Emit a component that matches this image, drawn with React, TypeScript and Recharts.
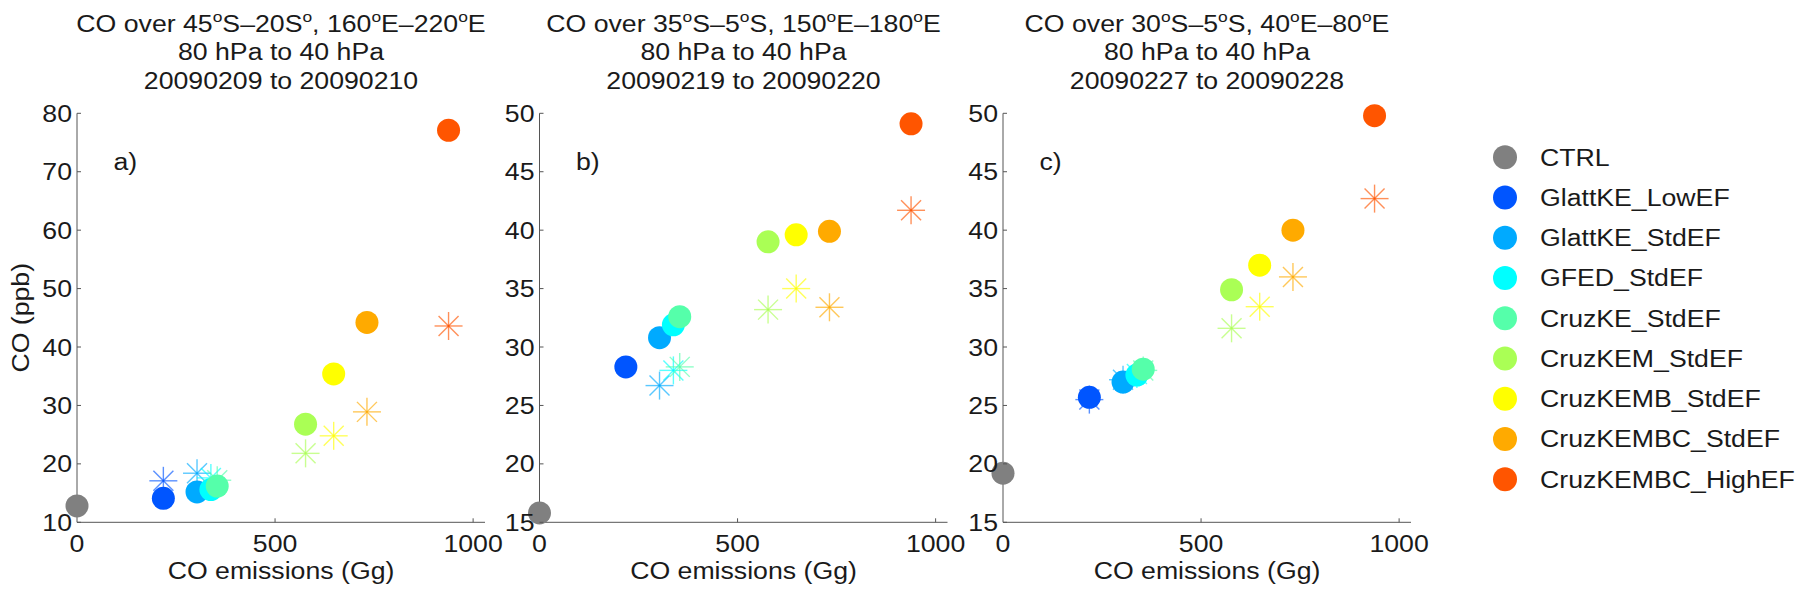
import React from 'react';
import { ScatterChart, Scatter, XAxis, YAxis } from 'recharts';

const SCENARIOS = ['CTRL', 'GlattKE_LowEF', 'GlattKE_StdEF', 'GFED_StdEF', 'CruzKE_StdEF', 'CruzKEM_StdEF', 'CruzKEMB_StdEF', 'CruzKEMBC_StdEF', 'CruzKEMBC_HighEF'];
const COLORS = ['#808080', '#0055FF', '#00AAFF', '#00FFFF', '#55FFAA', '#AAFF55', '#FFFF00', '#FFAA00', '#FF5500'];
const EMISSIONS = [0, 218, 303, 338, 354, 577, 648, 732, 938];

const A_CIRCLE = [12.8, 14.1, 15.2, 15.6, 16.2, 26.8, 35.4, 44.2, 77.1];
const A_STAR = [null, 17.1, 18.4, 17.6, 17.2, 21.8, 24.8, 28.9, 43.6];
const B_CIRCLE = [15.8, 28.3, 30.8, 31.9, 32.6, 39.0, 39.6, 39.9, 49.1];
const B_STAR = [null, null, 26.7, 28.0, 28.3, 33.2, 35.0, 33.4, 41.7];
const C_CIRCLE = [19.2, 25.7, 27.0, 27.6, 28.1, 34.9, 37.0, 40.0, 49.8];
const C_STAR = [null, 25.5, 27.2, 27.7, 28.0, 31.6, 33.45, 36.0, 42.7];

const X_TICKS = [0, 500, 1000];
const A_Y_TICKS = [10, 20, 30, 40, 50, 60, 70, 80];
const BC_Y_TICKS = [15, 20, 25, 30, 35, 40, 45, 50];

const A_TITLE = [['CO over 45', 'o', 'S\u201320S', 'o', ', 160', 'o', 'E\u2013220', 'o', 'E'], ['80 hPa to 40 hPa'], ['20090209 to 20090210']];
const B_TITLE = [['CO over 35', 'o', 'S\u20135', 'o', 'S, 150', 'o', 'E\u2013180', 'o', 'E'], ['80 hPa to 40 hPa'], ['20090219 to 20090220']];
const C_TITLE = [['CO over 30', 'o', 'S\u20135', 'o', 'S, 40', 'o', 'E\u201380', 'o', 'E'], ['80 hPa to 40 hPa'], ['20090227 to 20090228']];

const X_LABEL = 'CO emissions (Gg)';
const Y_LABEL = 'CO (ppb)';

const FONT = '"Liberation Sans", Arial, Helvetica, sans-serif';
const FS = 23;
const SX = 1.16;
const TXT = '#1a1a1a';
const AXIS = '#555555';

const W = 1800;
const H = 593;
const PLOT_TOP = 113.3;
const PLOT_BOTTOM = 522.3;
const X_MAX = 1030;
const PLOT_W = 408;
const YW = 60;
const XH = 30;

const PANELS = [
  { left: 77, circle: A_CIRCLE, star: A_STAR, yTicks: A_Y_TICKS, title: A_TITLE, tag: 'a)', yLabel: true },
  { left: 539.5, circle: B_CIRCLE, star: B_STAR, yTicks: BC_Y_TICKS, title: B_TITLE, tag: 'b)', yLabel: false },
  { left: 1003, circle: C_CIRCLE, star: C_STAR, yTicks: BC_Y_TICKS, title: C_TITLE, tag: 'c)', yLabel: false },
];

function STxt({ x, y, anchor = 'start', size = FS, children, rotate = 0 }: any) {
  return (
    <g transform={`translate(${x},${y}) rotate(${rotate}) scale(${SX},1)`}>
      <text x={0} y={0} textAnchor={anchor} fontSize={size} fontFamily={FONT} fill={TXT}>
        {children}
      </text>
    </g>
  );
}

function circleShape(color: string) {
  return (props: any) => {
    if (props.cx == null || props.cy == null) return <g />;
    return <circle cx={props.cx} cy={props.cy} r={11.5} fill={color} />;
  };
}

function starShape(color: string) {
  return (props: any) => {
    if (props.cx == null || props.cy == null) return <g />;
    const { cx, cy } = props;
    const a = 14;
    const d = 10;
    return (
      <g stroke={color} strokeWidth={1.4} strokeOpacity={0.65}>
        <line x1={cx - a} y1={cy} x2={cx + a} y2={cy} />
        <line x1={cx} y1={cy - a} x2={cx} y2={cy + a} />
        <line x1={cx - d} y1={cy - d} x2={cx + d} y2={cy + d} />
        <line x1={cx - d} y1={cy + d} x2={cx + d} y2={cy - d} />
      </g>
    );
  };
}

function Panel({ p }: any) {
  const plotLeft = p.left;
  const plotRight = p.left + PLOT_W;
  const yDomain = [p.yTicks[0], p.yTicks[p.yTicks.length - 1]];
  const xTick = (props: any) => {
    const x = props.x;
    const v = props.payload.value;
    return (
      <g>
        {v !== 0 && <line x1={x} x2={x} y1={PLOT_BOTTOM} y2={PLOT_BOTTOM - 4} stroke={AXIS} />}
        <STxt x={x} y={PLOT_BOTTOM + 29.4} anchor="middle">{String(v)}</STxt>
      </g>
    );
  };
  const yTick = (props: any) => {
    const y = props.y;
    const v = props.payload.value;
    return (
      <g>
        <line x1={plotLeft} x2={plotLeft + 4} y1={y} y2={y} stroke={AXIS} />
        <STxt x={plotLeft - 5} y={y + 8.6} anchor="end">{String(v)}</STxt>
      </g>
    );
  };
  return (
    <div style={{ position: 'absolute', left: 0, top: 0 }}>
      <ScatterChart
        width={W}
        height={H}
        margin={{ top: PLOT_TOP, left: plotLeft - YW, right: W - plotRight, bottom: H - PLOT_BOTTOM - XH }}
      >
        <XAxis
          type="number"
          dataKey="x"
          domain={[0, X_MAX]}
          ticks={X_TICKS}
          interval={0}
          height={XH}
          axisLine={{ stroke: AXIS, strokeWidth: 1 }}
          tickLine={false}
          tick={xTick}
        />
        <YAxis
          type="number"
          dataKey="y"
          domain={yDomain}
          ticks={p.yTicks}
          interval={0}
          width={YW}
          axisLine={{ stroke: AXIS, strokeWidth: 1 }}
          tickLine={false}
          tick={yTick}
        />
        {SCENARIOS.map((name, i) =>
          p.star[i] == null ? null : (
            <Scatter
              key={'s' + name}
              name={name + ' star'}
              data={[{ x: EMISSIONS[i], y: p.star[i] }]}
              fill={COLORS[i]}
              shape={starShape(COLORS[i])}
              isAnimationActive={false}
            />
          )
        )}
        {SCENARIOS.map((name, i) => (
          <Scatter
            key={'c' + name}
            name={name}
            data={[{ x: EMISSIONS[i], y: p.circle[i] }]}
            fill={COLORS[i]}
            shape={circleShape(COLORS[i])}
            isAnimationActive={false}
          />
        ))}
      </ScatterChart>
    </div>
  );
}

function TitleLine({ parts, x, y }: any) {
  return (
    <g transform={`translate(${x},${y}) scale(${SX},1)`}>
      <text x={0} y={0} textAnchor="middle" fontSize={FS} fontFamily={FONT} fill={TXT}>
        {parts.map((s: string, k: number) =>
          k % 2 === 1 ? (
            <tspan key={k} fontSize={15} dy={-9.5}>{s}</tspan>
          ) : (
            <tspan key={k} dy={k === 0 ? 0 : 9.5}>{s}</tspan>
          )
        )}
      </text>
    </g>
  );
}

function Overlay() {
  const legendTop = 157.3;
  const legendStep = 40.25;
  return (
    <svg width={W} height={H} style={{ position: 'absolute', left: 0, top: 0, pointerEvents: 'none' }}>
      {PANELS.map((p, i) => {
        const cx = p.left + PLOT_W / 2;
        return (
          <g key={i}>
            {p.title.map((parts: string[], k: number) => (
              <TitleLine key={k} parts={parts} x={cx} y={31.5 + k * 28.5} />
            ))}
            <STxt x={p.left + 36.5} y={170}>{p.tag}</STxt>
            <STxt x={cx} y={579} anchor="middle">{X_LABEL}</STxt>
            {p.yLabel && <STxt x={28.5} y={317.8} anchor="middle" rotate={-90}>{Y_LABEL}</STxt>}
          </g>
        );
      })}
      {SCENARIOS.map((name, i) => (
        <g key={name}>
          <circle cx={1505} cy={legendTop + i * legendStep} r={12} fill={COLORS[i]} />
          <STxt x={1540} y={legendTop + i * legendStep + 8.3}>{name}</STxt>
        </g>
      ))}
    </svg>
  );
}

export default function App() {
  return (
    <div style={{ position: 'absolute', left: 0, top: 0, width: W, height: H, background: '#ffffff' }}>
      {PANELS.map((p, i) => (
        <Panel key={i} p={p} />
      ))}
      <Overlay />
    </div>
  );
}
